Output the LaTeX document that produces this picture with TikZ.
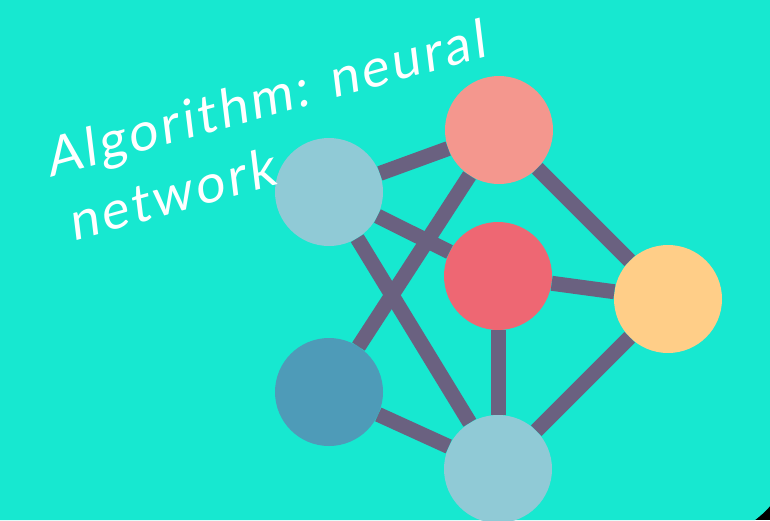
\documentclass[tikz,border=0pt]{standalone}
\usepackage{fontspec}
\setmainfont{Lato}
\newfontfamily\handfont[LetterSpace=6,FakeSlant=0.15]{Lato}
\definecolor{bgc}{HTML}{17E8D0}
\definecolor{edgec}{HTML}{6A6180}
\definecolor{pinkc}{HTML}{F4978E}
\definecolor{paleblue}{HTML}{90CAD6}
\definecolor{redc}{HTML}{EE6773}
\definecolor{yellowc}{HTML}{FFCE88}
\definecolor{bluec}{HTML}{4E9BB8}
\tikzset{
  neuron/.style={circle,minimum size=108pt,inner sep=0pt},
  link/.style={draw=edgec,line width=15pt}
}
\begin{document}
\begin{tikzpicture}[x=1pt,y=-1pt]
      \useasboundingbox (0,0) rectangle (770,520);
      \fill[black] (0,0) rectangle (770,520);
      \fill[bgc] (0,0) -- (770,0) -- (770,506) .. controls (765,512) and (760,516) .. (755,520) -- (0,520) -- cycle;
      \node[neuron,fill=pinkc] (t) at (499,130) {};
      \node[neuron,fill=paleblue] (l) at (329,192) {};
      \node[neuron,fill=redc] (m) at (498,276) {};
      \node[neuron,fill=yellowc] (r) at (668,299) {};
      \node[neuron,fill=bluec] (bl) at (329,392) {};
      \node[neuron,fill=paleblue] (b) at (498,469) {};
      \draw [link] (l) -- (t);
      \draw [link] (l) -- (m);
      \draw [link] (l) -- (b);
      \draw [link] (t) -- (bl);
      \draw [link] (t) -- (r);
      \draw [link] (m) -- (r);
      \draw [link] (m) -- (b);
      \draw [link] (r) -- (b);
      \draw [link] (bl) -- (b);
      % base of the last line
      \node[text=white,rotate=15.5,anchor=base west,align=left,inner sep=0pt,
        font=\handfont\fontsize{53}{68}\selectfont] (title) at (68,243)
        {Algorithm: neural\\\hspace*{5pt}network};
\end{tikzpicture}
\end{document}
